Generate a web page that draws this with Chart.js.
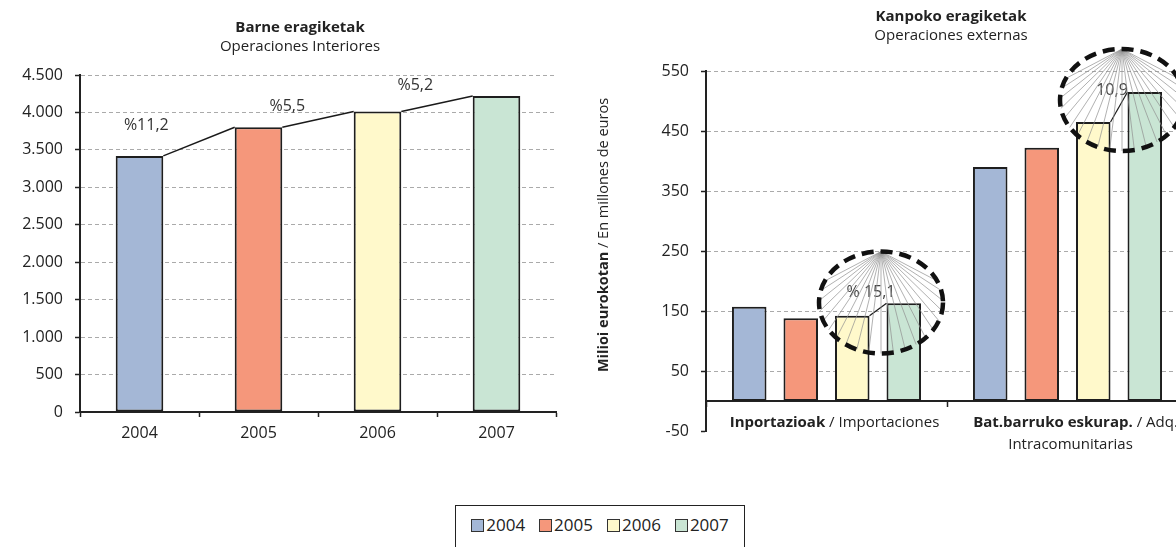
<!DOCTYPE html>
<html>
<head>
<meta charset="utf-8">
<script src="https://cdn.jsdelivr.net/npm/chart.js@4.4.0/dist/chart.umd.min.js"></script>
<style>
  html, body { margin: 0; padding: 0; background: #fff; overflow: hidden; }
  #wrap { position: relative; width: 1176px; height: 547px; overflow: hidden; font-family: "Open Sans", sans-serif; }
  #interior { position: absolute; left: 0; top: 0; }
  #external { position: absolute; left: 585px; top: 0; }
  #legend {
    position: absolute; left: 455px; top: 505px; width: 290px; height: 60px;
    border: 1.5px solid #222; box-sizing: border-box; text-align: center;
    padding-top: 7px; font-size: 17px; color: #222; white-space: nowrap;
  }
  #legend .item { display: inline-block; margin: 0 7px; }
  #legend .swatch {
    display: inline-block; width: 11px; height: 11px; border: 1.5px solid #333;
    margin-right: 2px; vertical-align: -1px;
  }
</style>
</head>
<body>
<div id="wrap">
  <canvas id="interior" width="600" height="470"></canvas>
  <canvas id="external" width="732" height="470"></canvas>
  <div id="legend"></div>
</div>
<script>
const years = ["2004", "2005", "2006", "2007"];
const yearColors = ["#A4B7D6", "#F5977B", "#FFF9CB", "#C9E5D4"];

// Barne eragiketak / Operaciones interiores
const interiorValues = [3420, 3803, 4012, 4221];
const interiorGrowth = ["%11,2", "%5,5", "%5,2"];

// Kanpoko eragiketak / Operaciones externas (one value per year)
const importaciones = [157, 138, 142, 163];
const adquisiciones = [390, 422, 465, 515];
const externalGrowth = ["% 15,1", "10,9"];
const catBold = ["Inportazioak", "Bat.barruko eskurap."];
const catNormal = ["Importaciones", "Adq."];
const catLine2 = ["", "Intracomunitarias"];

const FONT = "'Open Sans', sans-serif";
Chart.defaults.font.family = FONT;
Chart.defaults.color = "#222";

const fmt = (v) => String(v).replace(/\B(?=(\d{3})+(?!\d))/g, ".");

// empty right-hand box: keeps the plot width while the title stays centred on the canvas
const spacer = (w) => ({
  type: "linear",
  position: "right",
  min: 0,
  max: 1,
  ticks: { display: false },
  grid: { display: false },
  border: { display: false },
  afterFit: (s) => { s.width = w; },
});

const interiorGrowthLines = {
  id: "interiorGrowthLines",
  afterDatasetsDraw(chart) {
    const bars = chart.getDatasetMeta(0).data;
    const ctx = chart.ctx;
    const shift = [[-17, -30], [5, -21], [14, -26]];
    ctx.save();
    ctx.strokeStyle = "#1a1a1a";
    ctx.lineWidth = 1.5;
    ctx.font = "16px " + FONT;
    ctx.fillStyle = "#333";
    ctx.textAlign = "center";
    ctx.textBaseline = "middle";
    for (let i = 0; i < bars.length - 1; i++) {
      const a = bars[i], b = bars[i + 1];
      const x1 = a.x + a.width / 2, x2 = b.x - b.width / 2;
      ctx.beginPath();
      ctx.moveTo(x1, a.y);
      ctx.lineTo(x2, b.y);
      ctx.stroke();
      ctx.fillText(interiorGrowth[i], x1 + shift[i][0], a.y + shift[i][1]);
    }
    ctx.restore();
  },
};

new Chart(document.getElementById("interior"), {
  type: "bar",
  data: {
    labels: years,
    datasets: [
      {
        data: interiorValues,
        backgroundColor: yearColors,
        borderColor: "#1e1e1e",
        borderWidth: 2,
        borderSkipped: false,
        barPercentage: 0.4,
        categoryPercentage: 1,
      },
    ],
  },
  options: {
    responsive: false,
    animation: false,
    layout: { padding: 0 },
    plugins: {
      legend: { display: false },
      tooltip: { enabled: false },
      title: {
        display: true,
        text: "Barne eragiketak",
        font: { size: 15, weight: "bold" },
        color: "#222",
        padding: { top: 19, bottom: 1 },
      },
      subtitle: {
        display: true,
        text: "Operaciones Interiores",
        font: { size: 15 },
        color: "#222",
        padding: { top: 0, bottom: 19 },
      },
    },
    scales: {
      x: {
        grid: { offset: true, drawOnChartArea: false, tickLength: 5, color: "#222", tickWidth: 1.5 },
        border: { color: "#222", width: 2 },
        ticks: { padding: 7, font: { size: 16 }, color: "#222" },
        afterFit: (s) => { s.height = 58; },
      },
      y: {
        min: 0,
        max: 4500,
        ticks: { stepSize: 500, padding: 12, font: { size: 16 }, color: "#222", callback: (v) => fmt(v) },
        grid: {
          color: (c) => (c.tick && c.tick.value === 0 ? "rgba(0,0,0,0)" : "#aaa"),
          tickColor: "#222",
          tickLength: 5,
          tickWidth: 1.5,
        },
        border: { color: "#222", width: 2, dash: [4, 3] },
        afterFit: (s) => { s.width = 80; },
      },
      spacer: spacer(44),
    },
  },
  plugins: [interiorGrowthLines],
});

function drawMixed(ctx, bold, normal, cx, cy, size) {
  ctx.font = "bold " + size + "px " + FONT;
  const wb = ctx.measureText(bold).width;
  ctx.font = size + "px " + FONT;
  const wn = ctx.measureText(normal).width;
  const x = cx - (wb + wn) / 2;
  ctx.textAlign = "left";
  ctx.textBaseline = "middle";
  ctx.font = "bold " + size + "px " + FONT;
  ctx.fillText(bold, x, cy);
  ctx.font = size + "px " + FONT;
  ctx.fillText(normal, x + wb, cy);
}

const externalDecor = {
  id: "externalDecor",
  afterDraw(chart) {
    const { ctx, chartArea, scales } = chart;
    const m2006 = chart.getDatasetMeta(2).data;
    const m2007 = chart.getDatasetMeta(3).data;
    for (let i = 0; i < externalGrowth.length; i++) {
      const a = m2006[i], b = m2007[i];
      const x1 = a.x + a.width / 2, x2 = b.x - b.width / 2;
      ctx.save();
      ctx.strokeStyle = "#1a1a1a";
      ctx.lineWidth = 1.2;
      ctx.beginPath();
      ctx.moveTo(x1, a.y);
      ctx.lineTo(x2, b.y);
      ctx.stroke();

      const cx = (a.x + b.x) / 2 + 3, cy = (a.y + b.y) / 2 - 7, rx = 62, ry = 51;
      ctx.fillStyle = "#444";
      ctx.font = "16px " + FONT;
      ctx.textAlign = "center";
      ctx.textBaseline = "middle";
      ctx.fillText(externalGrowth[i], cx - 10, cy - 10);

      ctx.strokeStyle = "#8f8f8f";
      ctx.lineWidth = 0.7;
      for (let k = 0; k <= 20; k++) {
        const t = ((205 - k * 11.5) * Math.PI) / 180;
        ctx.beginPath();
        ctx.moveTo(cx, cy - ry);
        ctx.lineTo(cx + rx * Math.cos(t), cy + ry * Math.sin(t));
        ctx.stroke();
      }
      ctx.setLineDash([12, 7]);
      ctx.lineWidth = 4.5;
      ctx.strokeStyle = "#111";
      ctx.beginPath();
      ctx.ellipse(cx, cy, rx, ry, 0, 0, Math.PI * 2);
      ctx.stroke();
      ctx.restore();
    }

    // category labels under the zero line
    const zeroY = scales.y.getPixelForValue(0);
    ctx.save();
    ctx.fillStyle = "#222";
    for (let i = 0; i < catBold.length; i++) {
      const x = scales.x.getPixelForValue(i);
      drawMixed(ctx, catBold[i], " / " + catNormal[i], x + 8, zeroY + 22, 15);
      if (catLine2[i]) {
        ctx.font = "15px " + FONT;
        ctx.textAlign = "center";
        ctx.fillText(catLine2[i], x + 3, zeroY + 44);
      }
    }
    ctx.restore();

    // rotated y axis title
    ctx.save();
    ctx.fillStyle = "#222";
    ctx.translate(19, (chartArea.top + chartArea.bottom) / 2 - 16);
    ctx.rotate(-Math.PI / 2);
    drawMixed(ctx, "Milioi eurokotan", " / En millones de euros", 0, 0, 14.5);
    ctx.restore();
  },
};

new Chart(document.getElementById("external"), {
  type: "bar",
  data: {
    labels: catBold,
    datasets: years.map((y, i) => ({
      label: y,
      data: [importaciones[i], adquisiciones[i]],
      backgroundColor: yearColors[i],
      borderColor: "#1e1e1e",
      borderWidth: 2,
      borderSkipped: false,
      barPercentage: 0.67,
      categoryPercentage: 0.855,
    })),
  },
  options: {
    responsive: false,
    animation: false,
    layout: { padding: { left: 0, right: 0, bottom: 39 } },
    plugins: {
      legend: { display: false },
      tooltip: { enabled: false },
      title: {
        display: true,
        text: "Kanpoko eragiketak",
        font: { size: 15, weight: "bold" },
        color: "#222",
        padding: { top: 8, bottom: 1 },
      },
      subtitle: {
        display: true,
        text: "Operaciones externas",
        font: { size: 15 },
        color: "#222",
        padding: { top: 0, bottom: 26 },
      },
    },
    scales: {
      x: {
        position: { y: 0 },
        ticks: { display: false },
        grid: { offset: true, drawOnChartArea: false, tickLength: 5, color: "#222", tickWidth: 1.5 },
        border: { color: "#222", width: 2 },
      },
      y: {
        min: -50,
        max: 550,
        ticks: { stepSize: 100, padding: 12, font: { size: 16 }, color: "#222" },
        grid: {
          color: (c) => (c.tick && c.tick.value < 0 ? "rgba(0,0,0,0)" : "#aaa"),
          tickColor: "#222",
          tickLength: 5,
          tickWidth: 1.5,
        },
        border: { color: "#222", width: 2, dash: [4, 3] },
        afterFit: (s) => { s.width = 121; },
      },
      spacer: spacer(129),
    },
  },
  plugins: [externalDecor],
});

const legendEl = document.getElementById("legend");
years.forEach((y, i) => {
  const item = document.createElement("span");
  item.className = "item";
  const sw = document.createElement("span");
  sw.className = "swatch";
  sw.style.background = yearColors[i];
  item.appendChild(sw);
  item.appendChild(document.createTextNode(y));
  legendEl.appendChild(item);
});
</script>
</body>
</html>
